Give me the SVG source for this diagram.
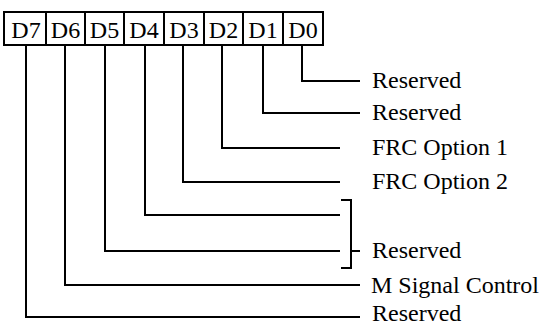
<svg xmlns="http://www.w3.org/2000/svg" width="545" height="326" viewBox="0 0 545 326">
<style>
.cell{fill:#fff;stroke:#000;stroke-width:2}
.bit{font-family:"Liberation Serif",serif;font-size:24px;text-anchor:middle;fill:#000}
.lbl{font-family:"Liberation Serif",serif;font-size:24px;fill:#000}
.wire{fill:none;stroke:#000;stroke-width:2}
</style>
<rect width="545" height="326" fill="#fff"/>
<g id="D7"><rect class="cell" x="4" y="12" width="42" height="33"/><text class="bit" x="26" y="38">D7</text></g>
<g id="D6"><rect class="cell" x="46" y="12" width="39" height="33"/><text class="bit" x="65.5" y="38">D6</text></g>
<g id="D5"><rect class="cell" x="85" y="12" width="39" height="33"/><text class="bit" x="104.5" y="38">D5</text></g>
<g id="D4"><rect class="cell" x="124" y="12" width="40" height="33"/><text class="bit" x="144" y="38">D4</text></g>
<g id="D3"><rect class="cell" x="164" y="12" width="40" height="33"/><text class="bit" x="184" y="38">D3</text></g>
<g id="D2"><rect class="cell" x="204" y="12" width="39" height="33"/><text class="bit" x="223.5" y="38">D2</text></g>
<g id="D1"><rect class="cell" x="243" y="12" width="40" height="33"/><text class="bit" x="263" y="38">D1</text></g>
<g id="D0"><rect class="cell" x="283" y="12" width="40" height="33"/><text class="bit" x="303" y="38">D0</text></g>
<g id="connectors">
<path class="wire" d="M302 45V81H360"/>
<path class="wire" d="M263 45V113H360"/>
<path class="wire" d="M222 45V148H340"/>
<path class="wire" d="M183 45V182H340"/>
<path class="wire" d="M145 45V215H340"/>
<path class="wire" d="M105 45V251H340"/>
<path class="wire" d="M65 45V285H360"/>
<path class="wire" d="M26 45V317H360"/>
<path class="wire" d="M341 200H351V268H341M351 251H360"/>
</g>
<g id="labels">
<text class="lbl" x="372" y="88">Reserved</text>
<text class="lbl" x="372" y="120">Reserved</text>
<text class="lbl" x="372" y="155">FRC Option 1</text>
<text class="lbl" x="372" y="189">FRC Option 2</text>
<text class="lbl" x="372" y="258">Reserved</text>
<text class="lbl" x="371" y="293">M Signal Control</text>
<text class="lbl" x="372" y="321">Reserved</text>
</g>
</svg>
